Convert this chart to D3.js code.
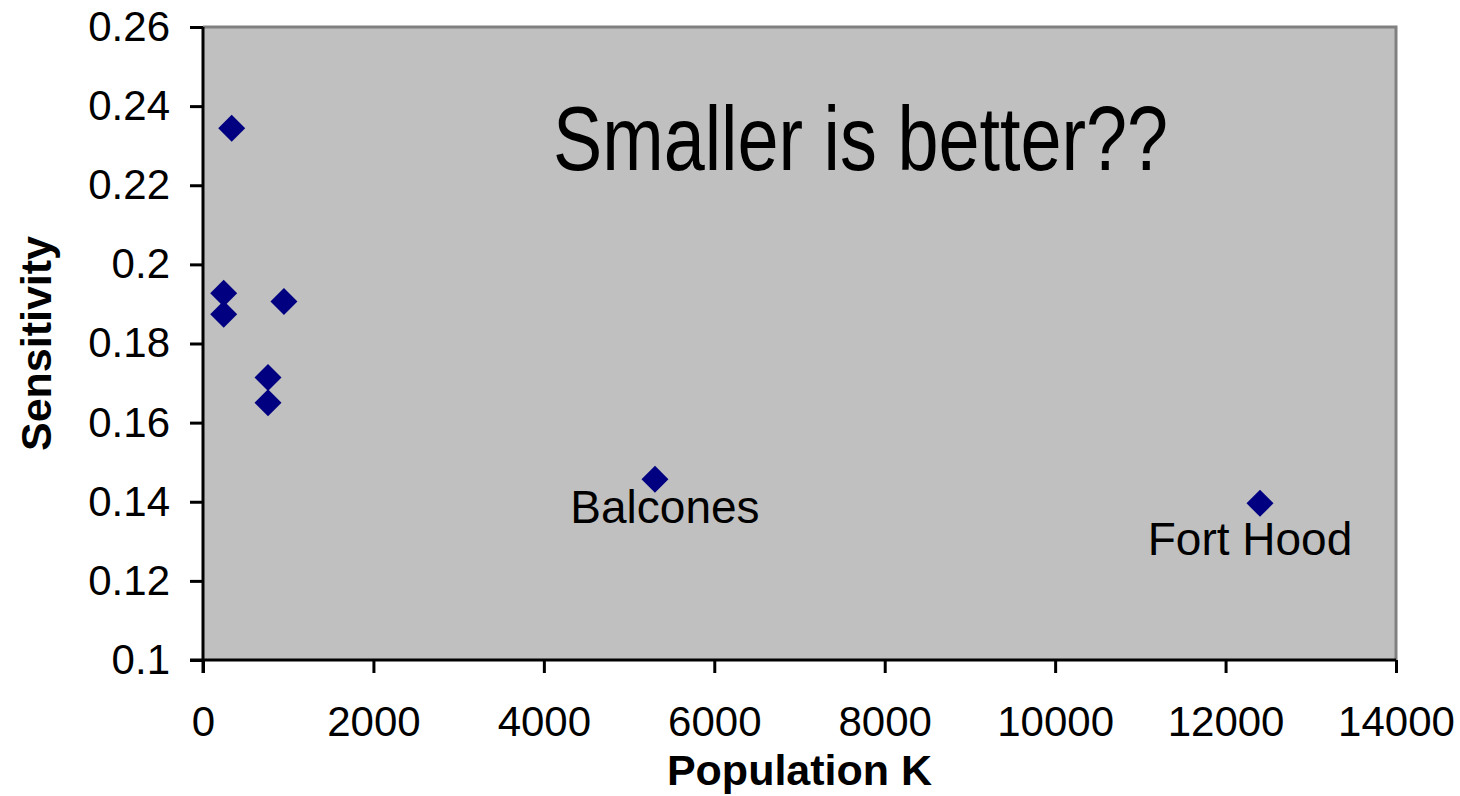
<!DOCTYPE html>
<html><head><meta charset="utf-8">
<script src="https://cdn.jsdelivr.net/npm/d3@7"></script>
<style>
html,body{margin:0;padding:0;background:#fff;}
text{font-family:"Liberation Sans",Arial,sans-serif;}
</style></head>
<body><svg id="c" width="1460" height="796"></svg>
<script>
const popK = [337, 243, 243, 950, 763, 763, 5304, 12404];
const sensitivity = [0.2344, 0.1927, 0.1874, 0.1906, 0.1714, 0.1650, 0.1457, 0.1396];
const pointLabels = ["", "", "", "", "", "", "Balcones", "Fort Hood"];
const xTicks = [0, 2000, 4000, 6000, 8000, 10000, 12000, 14000];
const yTicks = [0.1, 0.12, 0.14, 0.16, 0.18, 0.2, 0.22, 0.24, 0.26];
const yTickLabels = ["0.1", "0.12", "0.14", "0.16", "0.18", "0.2", "0.22", "0.24", "0.26"];
const title = "Smaller is better??";
const xTitle = "Population K";
const yTitle = "Sensitivity";

const L = 203, R = 1396, T = 27, B = 660;
const svg = d3.select("#c");
const x = d3.scaleLinear().domain([0, 14000]).range([L, R]);
const y = d3.scaleLinear().domain([0.1, 0.26]).range([B, T]);

svg.append("rect").attr("x", L).attr("y", T).attr("width", R - L).attr("height", B - T).attr("fill", "#c0c0c0");
svg.append("path").attr("d", `M${L},${T}H${R}V${B}`).attr("fill", "none").attr("stroke", "#808080").attr("stroke-width", 3);

const yAxis = d3.axisLeft(y).tickValues(yTicks).tickSize(13).tickPadding(20).tickFormat((d, i) => yTickLabels[i]);
const gy = svg.append("g").attr("transform", `translate(${L},0)`).call(yAxis);
const xAxis = d3.axisBottom(x).tickValues(xTicks).tickSize(13).tickPadding(33).tickFormat(d => String(d));
const gx = svg.append("g").attr("transform", `translate(0,${B})`).call(xAxis);
[gx, gy].forEach(g => {
  g.select(".domain").attr("stroke", "#000").attr("stroke-width", 3);
  g.selectAll(".tick line").attr("stroke", "#000").attr("stroke-width", 3);
  g.selectAll(".tick text").attr("fill", "#000").style("font-size", "42px").style("font-family", "'Liberation Sans',Arial,sans-serif");
});
gy.select(".domain").attr("d", `M0,${B+13}V${T}`);
gx.select(".domain").attr("d", `M${L-13},0H${R}`);

const data = popK.map((v, i) => ({x: v, y: sensitivity[i], label: pointLabels[i]}));
svg.append("g").selectAll("path").data(data).join("path")
  .attr("d", d3.symbol().type(d3.symbolSquare).size(364))
  .attr("transform", d => `translate(${x(d.x)},${y(d.y)}) rotate(45)`)
  .attr("fill", "#000080");

const labelData = data.filter(d => d.label);
const labelDx = [10, -10], labelDy = [44, 52];
svg.append("g").selectAll("text").data(labelData).join("text")
  .attr("x", (d, i) => x(d.x) + labelDx[i])
  .attr("y", (d, i) => y(d.y) + labelDy[i])
  .attr("text-anchor", "middle")
  .style("font-size", "46px")
  .text(d => d.label);

svg.append("text").attr("transform", "translate(553,170) scale(0.82,1)")
  .style("font-size", "90px").text(title);

svg.append("text").attr("x", (L + R) / 2).attr("y", 785).attr("text-anchor", "middle")
  .style("font-size", "43px").style("font-weight", "bold").text(xTitle);
svg.append("text").attr("transform", `translate(51,${(T + B) / 2}) rotate(-90)`).attr("text-anchor", "middle")
  .style("font-size", "43px").style("font-weight", "bold").text(yTitle);
</script></body></html>
